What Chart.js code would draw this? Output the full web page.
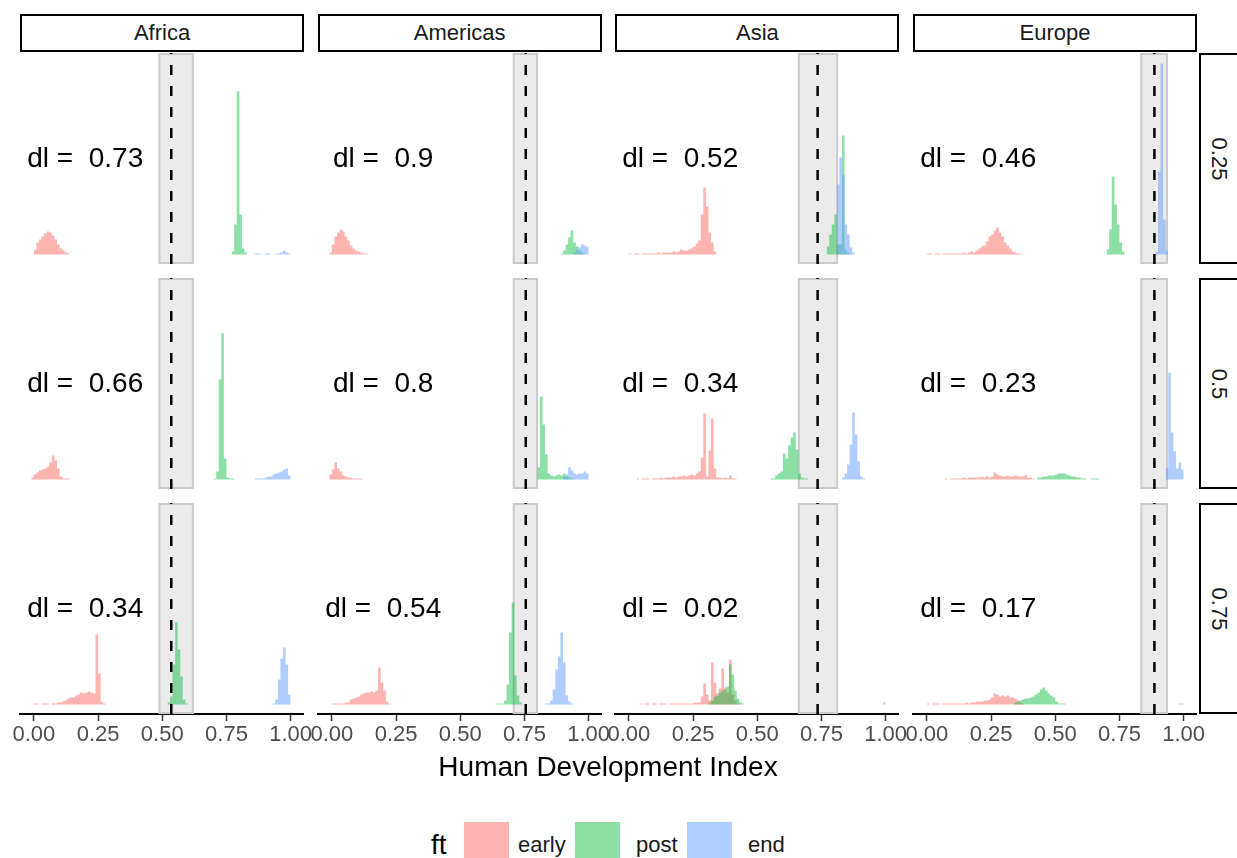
<!DOCTYPE html>
<html>
<head>
<meta charset="utf-8">
<script src="https://cdn.jsdelivr.net/npm/chart.js@4.4.1/dist/chart.umd.min.js"></script>
<style>
  body { margin: 0; background: #fff; }
  #page { position: relative; width: 1237px; height: 858px; overflow: hidden; font-family: "Liberation Sans", Arial, Helvetica, sans-serif; }
  .strip { position: absolute; box-sizing: border-box; border: 2px solid #000; background: #fff; color: #1a1a1a; font-size: 22px; display: flex; align-items: center; justify-content: center; }
  .strip.side span { display: inline-block; transform: rotate(90deg); }
  canvas { position: absolute; }
  .txt { position: absolute; white-space: nowrap; color: #000; }
  .key { position: absolute; }
</style>
</head>
<body>
<div id="page"></div>
<script>
// facets and series
const regions = ['Africa', 'Americas', 'Asia', 'Europe']
const levels = ['0.25', '0.5', '0.75']
const seriesNames = ['early', 'post', 'end']
const seriesColors = ['rgba(248,118,109,0.55)', 'rgba(0,186,56,0.45)', 'rgba(97,156,255,0.5)']
const dlValues = [[0.73, 0.9, 0.52, 0.46], [0.66, 0.8, 0.34, 0.23], [0.34, 0.54, 0.02, 0.17]]
const cutLines = [0.535, 0.755, 0.735, 0.886]
const bandLow = [0.489, 0.708, 0.662, 0.835]
const bandHigh = [0.619, 0.799, 0.811, 0.935]
const xTicks = [0, 0.25, 0.5, 0.75, 1]
const binWidth = 0.01

// histogram counts, one [first bin start, counts] per region (Africa, Americas, Asia, Europe)
const early025 = [
  [0.00, [5, 12, 15, 18, 21, 23, 22, 19, 15, 10, 6, 4, 2, 1]],
  [-0.01, [2, 10, 18, 22, 25, 23, 18, 14, 9, 6, 4, 3, 2, 1, 1]],
  [0.00, [1, 0, 1, 1, 0, 1, 1, 1, 1, 1, 1, 2, 1, 2, 2, 2, 2, 3, 2, 3, 5, 4, 4, 5, 6, 8, 11, 14, 40, 67, 48, 22, 12, 3]],
  [0.00, [1, 1, 0, 1, 1, 0, 1, 1, 1, 1, 1, 1, 1, 1, 2, 1, 2, 3, 2, 4, 6, 8, 9, 13, 18, 20, 24, 27, 22, 18, 12, 9, 6, 3, 2, 1, 1]]
]
const post025 = [
  [0.77, [3, 30, 163, 40, 6, 2]],
  [0.89, [1, 4, 10, 17, 24, 12, 8, 4, 2]],
  [0.77, [8, 20, 30, 40, 10, 10, 119, 5, 2]],
  [0.70, [5, 25, 78, 50, 30, 12, 3]]
]
const end025 = [
  [0.86, [1, 1, 0, 0, 1, 1, 0, 0, 1, 1, 2, 4, 2, 1]],
  [0.94, [2, 5, 7, 10, 9, 8]],
  [0.81, [70, 97, 80, 30, 20, 7, 2]],
  [0.89, [3, 83, 191, 35, 3]]
]
const early05 = [
  [-0.01, [2, 5, 7, 9, 10, 11, 13, 17, 24, 19, 11, 3, 1, 1, 1]],
  [-0.01, [5, 10, 17, 11, 8, 4, 3, 2, 2, 1, 1, 1, 1]],
  [0.03, [1, 0, 1, 1, 1, 0, 1, 1, 1, 2, 1, 2, 2, 2, 3, 2, 3, 3, 4, 3, 4, 5, 4, 6, 8, 22, 66, 3, 29, 61, 11, 2, 2, 1, 2, 1, 4, 1, 1]],
  [0.07, [1, 0, 1, 1, 1, 1, 1, 2, 1, 2, 2, 2, 2, 2, 3, 2, 3, 2, 3, 7, 5, 4, 3, 3, 4, 3, 3, 4, 3, 3, 3, 4, 2, 2, 1]]
]
const post05 = [
  [0.70, [1, 8, 100, 146, 21, 2, 1, 1]],
  [0.80, [12, 83, 55, 25, 6, 4, 3, 4, 5, 4, 6, 3, 2, 1]],
  [0.55, [1, 1, 4, 6, 8, 26, 21, 34, 42, 47, 30, 6, 2, 1, 1]],
  [0.43, [2, 2, 3, 3, 4, 4, 4, 5, 6, 6, 6, 5, 4, 3, 3, 2, 2, 1, 1, 0, 0, 1, 1, 1]]
]
const end05 = [
  [0.86, [1, 1, 1, 1, 2, 3, 3, 5, 6, 7, 8, 10, 11, 4]],
  [0.90, [3, 5, 12, 9, 6, 5, 6, 6, 8, 6]],
  [0.83, [2, 6, 15, 35, 67, 45, 18, 3, 1]],
  [0.93, [11, 107, 47, 28, 11, 17, 10]]
]
const early075 = [
  [0.00, [1, 1, 0, 1, 1, 1, 0, 1, 1, 2, 2, 3, 4, 6, 7, 7, 9, 10, 12, 11, 12, 13, 12, 11, 70, 31, 3, 1]],
  [0.00, [1, 1, 1, 1, 1, 2, 2, 5, 6, 7, 8, 10, 11, 12, 12, 13, 12, 14, 37, 22, 14, 3, 1]],
  [0.04, [1, 0, 1, 1, 0, 1, 1, 0, 1, 1, 1, 0, 1, 1, 1, 1, 1, 1, 1, 1, 1, 2, 2, 2, 8, 21, 10, 4, 42, 22, 11, 16, 36, 17, 12, 45, 10, 4, 1]],
  [0.00, [1, 0, 1, 1, 1, 0, 1, 1, 1, 1, 1, 1, 1, 1, 1, 2, 1, 2, 2, 3, 3, 3, 4, 4, 5, 7, 11, 10, 8, 9, 8, 9, 7, 7, 6, 4, 2, 1]]
]
const post075 = [
  [0.52, [2, 8, 40, 82, 55, 28, 5, 1]],
  [0.64, [1, 1, 1, 4, 20, 72, 102, 29, 9, 2]],
  [0.31, [2, 4, 8, 9, 12, 14, 15, 18, 40, 30, 14, 6, 2, 1]],
  [0.34, [2, 3, 4, 5, 6, 6, 7, 8, 10, 12, 15, 17, 14, 11, 9, 7, 3, 1, 1, 1]]
]
const end075 = [
  [0.93, [1, 5, 25, 46, 57, 40, 10]],
  [0.83, [1, 1, 4, 15, 35, 48, 72, 42, 9, 3, 1]],
  [0.99, [2]],
  [0.98, [1, 1]]
]
const hist = [[early025, post025, end025], [early05, post05, end05], [early075, post075, end075]]

// layout
let page = document.getElementById('page')
const panelLeft = 20
const colStep = 297.7
const panelW = 283
const rowTops = [53, 278, 503]
const panelH = 211
const padX = 34
const axisH = 44
const xMin = -0.054, xMax = 1.048
const yMin = -9.6, yMax = 201.6
const dlX = 0.2, dlY = 95
const fontFam = '"Liberation Sans", Arial, Helvetica, sans-serif'

function binsToPoints(h) {
  let start = h[0], counts = h[1]
  let pts = counts.map((c, i) => ({x: +(start + i * binWidth).toFixed(3), y: c}))
  pts.push({x: +(start + counts.length * binWidth).toFixed(3), y: 0})
  return pts
}

const panelDeco = {
  id: 'panelDeco',
  beforeDatasetsDraw(chart, args, o) {
    let ctx = chart.ctx, a = chart.chartArea, x = chart.scales.x
    let x0 = x.getPixelForValue(bandLow[o.col]), x1 = x.getPixelForValue(bandHigh[o.col])
    ctx.save()
    ctx.fillStyle = '#ebebeb'
    ctx.fillRect(x0, a.top, x1 - x0, a.bottom - a.top)
    ctx.strokeStyle = '#cacaca'
    ctx.lineWidth = 2
    ctx.strokeRect(x0, a.top + 1, x1 - x0, a.bottom - a.top - 2)
    ctx.restore()
  },
  afterDatasetsDraw(chart, args, o) {
    let ctx = chart.ctx, a = chart.chartArea, x = chart.scales.x, y = chart.scales.y
    let lx = x.getPixelForValue(cutLines[o.col])
    ctx.save()
    ctx.strokeStyle = '#000'
    ctx.lineWidth = 2.5
    ctx.setLineDash([10, 11])
    ctx.beginPath()
    ctx.moveTo(lx, a.bottom)
    ctx.lineTo(lx, a.top)
    ctx.stroke()
    ctx.setLineDash([])
    ctx.fillStyle = '#000'
    ctx.font = '28px ' + fontFam
    ctx.textAlign = 'center'
    ctx.textBaseline = 'middle'
    ctx.fillText('dl =  ' + o.dl, x.getPixelForValue(dlX), y.getPixelForValue(dlY))
    ctx.restore()
  }
}

function addStrip(left, top, w, h, text, side) {
  let d = document.createElement('div')
  d.className = side ? 'strip side' : 'strip'
  d.style.left = left + 'px'
  d.style.top = top + 'px'
  d.style.width = w + 'px'
  d.style.height = h + 'px'
  d.innerHTML = '<span>' + text + '</span>'
  page.append(d)
}

regions.forEach((name, c) => {
  addStrip(panelLeft + c * colStep, 14, panelW + 1, 38, name, false)
})
levels.forEach((lv, r) => {
  addStrip(1199, rowTops[r], 40, panelH, lv, true)
})

for (let r = 0; r < levels.length; r++) {
  for (let c = 0; c < regions.length; c++) {
    let bottom = r == levels.length - 1
    let cv = document.createElement('canvas')
    cv.width = panelW + 2 * padX
    cv.height = panelH + (bottom ? axisH : 0)
    cv.style.left = (panelLeft + c * colStep - padX) + 'px'
    cv.style.top = rowTops[r] + 'px'
    page.append(cv)
    let datasets = seriesNames.map((s, k) => ({
      label: s,
      data: binsToPoints(hist[r][k][c]),
      stepped: true,
      fill: 'origin',
      backgroundColor: seriesColors[k],
      borderWidth: 0,
      pointRadius: 0,
      order: 3 - k
    }))
    let xScale = {type: 'linear', min: xMin, max: xMax, display: false}
    if (bottom) {
      xScale = {
        type: 'linear', min: xMin, max: xMax, display: true,
        afterBuildTicks: s => { s.ticks = xTicks.map(v => ({value: v})) },
        afterFit: s => { s.height = axisH },
        grid: {drawOnChartArea: false, drawTicks: true, tickLength: 7, tickColor: '#333', tickWidth: 1.5},
        border: {display: true, color: '#000', width: 2},
        ticks: {
          autoSkip: false, maxRotation: 0, padding: 1, color: '#4d4d4d',
          font: {size: 22, family: fontFam},
          callback: v => v.toFixed(2)
        }
      }
    }
    new Chart(cv, {
      type: 'line',
      data: {datasets: datasets},
      options: {
        responsive: false,
        animation: false,
        devicePixelRatio: 1,
        layout: {padding: {left: padX, right: padX, top: 0, bottom: 0}},
        plugins: {
          legend: {display: false},
          tooltip: {enabled: false},
          panelDeco: {col: c, dl: dlValues[r][c]}
        },
        scales: {
          x: xScale,
          y: {min: yMin, max: yMax, display: false}
        }
      },
      plugins: [panelDeco]
    })
  }
}

// axis title and legend
let title = document.createElement('div')
title.className = 'txt'
title.style.cssText = 'left:0;width:1216px;top:751px;text-align:center;font-size:28px;'
title.textContent = 'Human Development Index'
page.append(title)

let ft = document.createElement('div')
ft.className = 'txt'
ft.style.cssText = 'left:431px;top:829px;font-size:28px;'
ft.textContent = 'ft'
page.append(ft)

const keyLeft = [464, 575, 687]
const labelLeft = [518, 636, 748]
seriesNames.forEach((s, k) => {
  let key = document.createElement('div')
  key.className = 'key'
  key.style.cssText = 'left:' + keyLeft[k] + 'px;top:822px;width:45px;height:44px;background:' + seriesColors[k]
  page.append(key)
  let lab = document.createElement('div')
  lab.className = 'txt'
  lab.style.cssText = 'left:' + labelLeft[k] + 'px;top:832px;font-size:22px;color:#1a1a1a'
  lab.textContent = s
  page.append(lab)
})
</script>
</body>
</html>
